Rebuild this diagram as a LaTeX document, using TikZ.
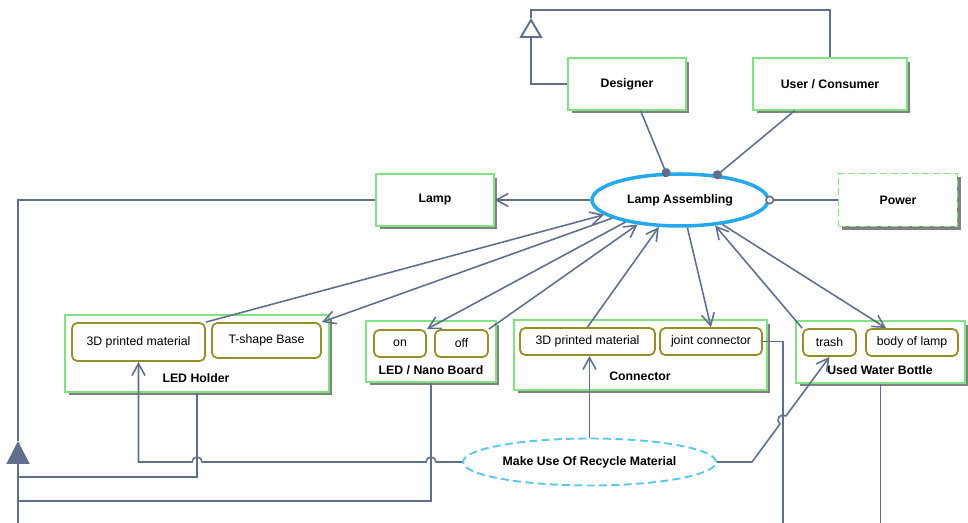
\documentclass[tikz,border=0pt]{standalone}
\usepackage{fontspec}
\setmainfont{Liberation Sans}
\usetikzlibrary{arrows.meta,shapes.geometric,shadows}
\definecolor{linkc}{RGB}{96,112,140}
\definecolor{thingc}{RGB}{130,226,130}
\definecolor{partc}{RGB}{152,142,40}
\definecolor{procc}{RGB}{38,168,236}
\definecolor{recyc}{RGB}{92,200,240}

\begin{document}
\begin{tikzpicture}[x=0.02cm,y=-0.02cm,
    thing/.style={draw=thingc,line width=0.8pt,fill=white,inner sep=0pt,
      font=\fontsize{7}{8.5}\selectfont\bfseries,
      drop shadow={shadow xshift=0.07cm,shadow yshift=-0.07cm,fill=black!55,opacity=0.9}},
    lbl/.style={inner sep=1pt,font=\fontsize{7}{8.5}\selectfont\bfseries},
    part/.style={draw=partc,line width=1pt,rounded corners=3pt,fill=white,inner sep=0pt,
      font=\fontsize{7}{8.5}\selectfont},
    proc/.style={ellipse,draw=procc,line width=2pt,fill=white,inner sep=0pt,
      font=\fontsize{7}{8.5}\selectfont\bfseries},
    link/.style={draw=linkc,line width=0.9pt},
    res/.style={link,-{Straight Barb[length=0.24cm,width=0.26cm]}},
    agent/.style={link,-{Circle[length=0.18cm]},shorten >=-0.09cm},
    instr/.style={link,-{Circle[open,fill=white,length=0.18cm]},shorten >=-0.09cm}]
  \useasboundingbox (0,0) rectangle (968,523);

  \node[thing,minimum width=2.36cm,minimum height=1.04cm] (Designer) at (627,84) {Designer};
  \node[thing,minimum width=3.08cm,minimum height=1.04cm] (User) at (830,84) {User / Consumer};
  \node[thing,minimum width=2.36cm,minimum height=1.04cm] (Lamp) at (435,200) {Lamp};
  \node[thing,dash pattern=on 4pt off 2pt,minimum width=2.38cm,minimum height=1.06cm] (Power) at (898,200) {Power};
  \node[proc,minimum width=3.52cm,minimum height=1.04cm] (LA) at (680,200) {Lamp Assembling};

  \node[thing,minimum width=5.28cm,minimum height=1.54cm] (LEDHolder) at (197,353.5) {};
  \node[part,minimum width=2.66cm,minimum height=0.76cm] (LEDMat) at (138.5,342) {3D printed material};
  \node[part,minimum width=2.18cm,minimum height=0.70cm] (TBase) at (266.5,340.5) {T-shape Base};
  \node[lbl] (LEDHolderLbl) at (196,378) {LED Holder};

  \node[thing,minimum width=2.6cm,minimum height=1.22cm] (Nano) at (431,351.5) {};
  \node[part,minimum width=1.04cm,minimum height=0.54cm] (On) at (400,343.5) {on};
  \node[part,minimum width=1.06cm,minimum height=0.54cm] (Off) at (461.5,343.5) {off};
  \node[lbl] (NanoLbl) at (431,370) {LED / Nano Board};

  \node[thing,minimum width=5.06cm,minimum height=1.4cm] (Connector) at (640.5,355) {};
  \node[part,minimum width=2.7cm,minimum height=0.54cm] (ConMat) at (587.5,341.5) {3D printed material};
  \node[part,minimum width=2.04cm,minimum height=0.54cm] (Joint) at (711,341.5) {joint connector};
  \node[lbl] (ConnectorLbl) at (640,376) {Connector};

  \node[thing,minimum width=3.38cm,minimum height=1.24cm] (Bottle) at (880.5,352) {};
  \node[part,minimum width=1.06cm,minimum height=0.54cm] (Trash) at (829.5,342.5) {trash};
  \node[part,minimum width=1.84cm,minimum height=0.54cm] (Body) at (912,342.5) {body of lamp};
  \node[lbl] (BottleLbl) at (880,370) {Used Water Bottle};

  \node[proc,draw=recyc,line width=1.1pt,dash pattern=on 4.5pt off 2.5pt,
    minimum width=5.06cm,minimum height=0.94cm] (Recycle) at (589.5,462) {Make Use Of Recycle Material};

  \coordinate (genTip) at (531,18); \coordinate (genTop) at (531,10);
  \coordinate (aggTip) at (18,441); \coordinate (aggEnd) at (18,523);
  \coordinate (aggA) at (18,477); \coordinate (aggB) at (18,501);
  \coordinate (jointEnd) at (783,523);

  \draw[link,-{Triangle[open,length=0.4cm,width=0.46cm,line width=1.1pt]}] (Designer.west) -| (genTip);
  \draw[link] (genTip) -- (genTop) -| (User.north);
  \draw[agent] (Designer.297) -- (LA.117);
  \draw[agent] (User.217) -- (LA.34);
  \draw[instr] (Power.west) -- (LA.east);
  \draw[res] (LA.west) -- (Lamp.east);

  \draw[res] (LEDMat.north east) -- (LA.191);
  \draw[res] (LA.195) -- (TBase.north east);
  \draw[res] (LA.202) -- (On.north east);
  \draw[res] (Off.north east) -- (LA.210);
  \draw[res] (ConMat.north) -- (LA.232);
  \draw[res] (LA.285) -- (Joint.north);
  \draw[res] (Trash.north west) -- (LA.324);
  \draw[res] (LA.330) -- (Body.151);

  \draw[res] (Recycle.north) -- (Recycle.north |- ConMat.south);
  \draw[res] (Recycle.west) -- (436,462) arc[start angle=0,end angle=180,radius=0.1cm]
    -- (202,462) arc[start angle=0,end angle=180,radius=0.1cm]
    -- (LEDMat.south |- Recycle.west) -- (LEDMat.south);
  \draw[res] (Recycle.east) -- (752,462) -- (780.03,424.02)
    arc[start angle=233.6,end angle=53.6,radius=0.1cm] -- (Trash.south);
  \draw[link] (Joint.east) -| (jointEnd);
  \draw[link] (Bottle.south) -- (Bottle.south |- aggEnd);

  \draw[link,-{Triangle[length=0.46cm,width=0.46cm]}] (aggEnd) -- (aggTip);
  \draw[link] (aggTip) |- (Lamp.west);
  \draw[link] (LEDHolder.south) |- (aggA);
  \draw[link] (Nano.south) |- (aggB);
\end{tikzpicture}
\end{document}
